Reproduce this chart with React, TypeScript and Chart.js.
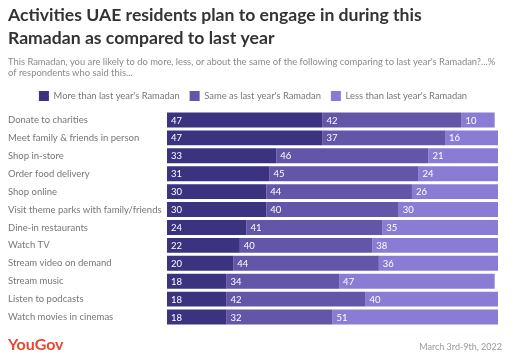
import React, { useEffect, useRef } from "react";
import { Chart, registerables } from "chart.js";

Chart.register(...registerables);

const categories = [
  "Donate to charities",
  "Meet family & friends in person",
  "Shop in-store",
  "Order food delivery",
  "Shop online",
  "Visit theme parks with family/friends",
  "Dine-in restaurants",
  "Watch TV",
  "Stream video on demand",
  "Stream music",
  "Listen to podcasts",
  "Watch movies in cinemas",
];
const moreValues = [47, 47, 33, 31, 30, 30, 24, 22, 20, 18, 18, 18];
const sameValues = [42, 37, 46, 45, 44, 40, 41, 40, 44, 34, 42, 32];
const lessValues = [10, 16, 21, 24, 26, 30, 35, 38, 36, 47, 40, 51];
const seriesNames = [
  "More than last year's Ramadan",
  "Same as last year's Ramadan",
  "Less than last year's Ramadan",
];
const colors = ["#3b3280", "#6356a9", "#8a7cd4"];

const titleLines = [
  "Activities UAE residents plan to engage in during this",
  "Ramadan as compared to last year",
];
const subtitleLines = [
  "This Ramadan, you are likely to do more, less, or about the same of the following comparing to last year's Ramadan?...%",
  "of respondents who said this...",
];
const sourceText = "March 3rd-9th, 2022";
const brandText = "YouGov";

const FONT = "Lato, 'Open Sans', sans-serif";

const textPlugin = {
  id: "texts",
  afterDraw(chart: any) {
    const ctx = chart.ctx;
    ctx.save();
    ctx.textBaseline = "alphabetic";
    ctx.textAlign = "left";
    ctx.fillStyle = "#333333";
    ctx.font = `bold 17.6px ${FONT}`;
    ctx.fillText(titleLines[0], 8, 21);
    ctx.fillText(titleLines[1], 8, 44);
    ctx.fillStyle = "#8a8a8a";
    ctx.font = `9.4px ${FONT}`;
    ctx.fillText(subtitleLines[0], 8, 65);
    ctx.fillText(subtitleLines[1], 8, 76);
    ctx.fillStyle = "#e8472f";
    ctx.font = `bold 16px ${FONT}`;
    ctx.fillText(brandText, 8, 350);
    ctx.fillStyle = "#999999";
    ctx.font = `9px ${FONT}`;
    ctx.textAlign = "right";
    ctx.fillText(sourceText, 502, 350);
    ctx.restore();
  },
};

const labelPlugin = {
  id: "barLabels",
  afterDatasetsDraw(chart: any) {
    const ctx = chart.ctx;
    ctx.save();
    ctx.fillStyle = "#ffffff";
    ctx.font = `9.5px ${FONT}`;
    ctx.textAlign = "left";
    ctx.textBaseline = "middle";
    chart.data.datasets.forEach((ds: any, di: number) => {
      const meta = chart.getDatasetMeta(di);
      meta.data.forEach((bar: any, i: number) => {
        const left = Math.min(bar.x, bar.base);
        ctx.fillText(String(ds.data[i]), left + 4, bar.y + 0.5);
      });
    });
    ctx.restore();
  },
};

export default function App() {
  const ref = useRef<HTMLCanvasElement>(null);
  useEffect(() => {
    document.body.style.margin = "0";
    const chart = new Chart(ref.current!, {
      type: "bar",
      data: {
        labels: categories,
        datasets: [moreValues, sameValues, lessValues].map((d, i) => ({
          label: seriesNames[i],
          data: d,
          backgroundColor: colors[i],
          borderWidth: 0,
          barPercentage: 0.83,
          categoryPercentage: 1,
        })),
      },
      options: {
        indexAxis: "y",
        animation: false,
        responsive: false,
        maintainAspectRatio: false,
        layout: { padding: { top: 81, left: 8, right: 16, bottom: 29 } },
        plugins: {
          legend: {
            display: true,
            position: "top",
            labels: {
              boxWidth: 10,
              boxHeight: 10,
              padding: 10,
              color: "#777777",
              font: { family: FONT, size: 9.4 },
            },
          },
          title: { display: false },
          tooltip: { enabled: false },
        },
        scales: {
          x: {
            stacked: true,
            min: 0,
            max: 100,
            display: false,
          },
          y: {
            stacked: true,
            grid: { display: false },
            border: { display: false },
            ticks: {
              crossAlign: "far",
              color: "#777777",
              font: { family: FONT, size: 9.5 },
              padding: 0,
            },
            afterFit(scale: any) {
              scale.width = 159;
            },
          },
        },
      },
      plugins: [textPlugin, labelPlugin],
    } as any);
    return () => chart.destroy();
  }, []);
  return (
    <div style={{ position: "relative", width: 514, height: 355 }}>
      <canvas ref={ref} width={514} height={355} style={{ display: "block" }} />
    </div>
  );
}
